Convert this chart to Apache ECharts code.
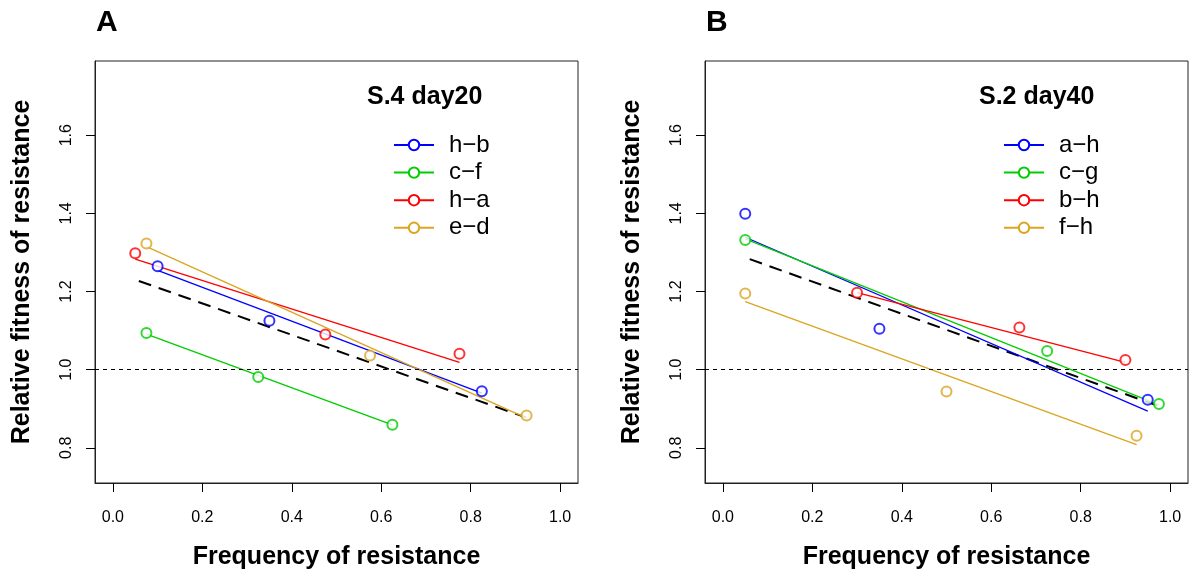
<!DOCTYPE html>
<html>
<head>
<meta charset="utf-8">
<script src="https://cdn.jsdelivr.net/npm/echarts@6/dist/echarts.min.js"></script>
<style>
html, body { margin: 0; padding: 0; background: #fff; }
#chart { width: 1191px; height: 571px; }
</style>
</head>
<body>
<div id="chart"></div>
<script>
var font = 'Liberation Sans, Arial, sans-serif';
var colors = ['#0000ff', '#00cd00', '#ff0000', '#daa520'];
var xTicks = [0, 0.2, 0.4, 0.6, 0.8, 1.0];
var yTicks = [0.8, 1.0, 1.2, 1.4, 1.6];

// panel A : S.4 day20
var namesA = ['h\u2212b', 'c\u2212f', 'h\u2212a', 'e\u2212d'];
var freqA = [[0.10, 0.35, 0.825], [0.075, 0.325, 0.625], [0.05, 0.475, 0.775], [0.075, 0.575, 0.925]];
var fitnessA = [[1.265, 1.125, 0.945], [1.094, 0.981, 0.859], [1.298, 1.090, 1.041], [1.323, 1.036, 0.883]];
var lineXA = [[0.10, 0.825], [0.075, 0.625], [0.05, 0.775], [0.075, 0.925]];
var lineYA = [[1.254, 0.940], [1.091, 0.859], [1.283, 1.019], [1.315, 0.876]];
var allXA = [0.058, 0.923];
var allYA = [1.227, 0.878];

// panel B : S.2 day40
var namesB = ['a\u2212h', 'c\u2212g', 'b\u2212h', 'f\u2212h'];
var freqB = [[0.05, 0.35, 0.95], [0.05, 0.725, 0.975], [0.30, 0.663, 0.90], [0.05, 0.50, 0.925]];
var fitnessB = [[1.399, 1.105, 0.923], [1.332, 1.048, 0.912], [1.197, 1.108, 1.025], [1.195, 0.944, 0.831]];
var lineXB = [[0.05, 0.95], [0.05, 0.975], [0.30, 0.90], [0.05, 0.925]];
var lineYB = [[1.339, 0.894], [1.335, 0.910], [1.197, 1.019], [1.174, 0.808]];
var allXB = [0.06, 0.974];
var allYB = [1.283, 0.907];

var myChart = echarts.init(document.getElementById('chart'));

function pairs(xs, ys) {
    var out = [];
    for (var i = 0; i < xs.length; i++) out.push([xs[i], ys[i]]);
    return out;
}

function panelSeries(k, names, freq, fitness, lineX, lineY, allX, allY) {
    var list = [];
    for (var i = 0; i < names.length; i++) {
        list.push({
            name: names[i], type: 'line', xAxisIndex: k, yAxisIndex: k,
            data: pairs(lineX[i], lineY[i]),
            symbol: 'emptyCircle', symbolSize: 10, showSymbol: false,
            color: colors[i], lineStyle: { color: colors[i], width: 1.3 },
            silent: true, z: 3
        });
        list.push({
            name: names[i], type: 'scatter', xAxisIndex: k, yAxisIndex: k,
            data: pairs(freq[i], fitness[i]),
            symbol: 'emptyCircle', symbolSize: 10,
            itemStyle: { color: colors[i], borderColor: colors[i], borderWidth: 1.2 },
            z: 4
        });
    }
    // pooled fit + reference line at 1
    list.push({
        type: 'line', xAxisIndex: k, yAxisIndex: k,
        data: pairs(allX, allY), symbol: 'none', silent: true,
        lineStyle: { color: '#000', width: 2, type: [13, 8] },
        markLine: {
            silent: true, symbol: 'none', label: { show: false },
            lineStyle: { color: '#000', width: 1, type: [4, 4] },
            data: [{ yAxis: 1 }]
        },
        z: 2
    });
    return list;
}

function xAxisFor(k) {
    return {
        type: 'value', gridIndex: k, min: -0.04, max: 1.04,
        name: 'Frequency of resistance', nameLocation: 'middle', nameGap: 62,
        nameTextStyle: { fontFamily: font, fontSize: 25, fontWeight: 'bold', color: '#000' },
        axisLine: { show: true, onZero: false, lineStyle: { color: '#222', width: 1 } },
        axisTick: { show: true, inside: false, length: 9, customValues: xTicks, lineStyle: { color: '#000' } },
        axisLabel: {
            customValues: xTicks, margin: 27, fontFamily: font, fontSize: 16, color: '#000',
            formatter: function (v) { return v.toFixed(1); }
        },
        splitLine: { show: false }
    };
}

function yAxisFor(k) {
    return {
        type: 'value', gridIndex: k, min: 0.71, max: 1.79,
        name: 'Relative fitness of resistance', nameLocation: 'middle', nameGap: 60,
        nameTextStyle: { fontFamily: font, fontSize: 25, fontWeight: 'bold', color: '#000' },
        axisLine: { show: true, onZero: false, lineStyle: { color: '#222', width: 1 } },
        axisTick: { show: true, inside: false, length: 9, customValues: yTicks, lineStyle: { color: '#000' } },
        axisLabel: {
            customValues: yTicks, margin: 20, rotate: 90, fontFamily: font, fontSize: 16, color: '#000',
            formatter: function (v) { return v.toFixed(1); }
        },
        splitLine: { show: false }
    };
}

function legendFor(left, names) {
    return {
        orient: 'vertical', left: left, top: 128, data: names,
        itemWidth: 40, itemHeight: 13, itemGap: 3.6,
        textStyle: { fontFamily: font, fontSize: 24, color: '#000', lineHeight: 23, padding: [0, 0, 0, 10] }
    };
}

var titleStyle = { fontFamily: font, fontWeight: 'bold', color: '#000' };

var option = {
    backgroundColor: '#fff',
    animation: false,
    title: [
        { text: 'A', left: 96, top: 8, padding: 0, textStyle: Object.assign({ fontSize: 30 }, titleStyle) },
        { text: 'B', left: 706, top: 8, padding: 0, textStyle: Object.assign({ fontSize: 30 }, titleStyle) },
        { text: 'S.4 day20', left: 367, top: 85, padding: 0, textStyle: Object.assign({ fontSize: 25 }, titleStyle) },
        { text: 'S.2 day40', left: 979, top: 85, padding: 0, textStyle: Object.assign({ fontSize: 25 }, titleStyle) }
    ],
    legend: [legendFor(388, namesA), legendFor(998, namesB)],
    grid: [
        { left: 95, top: 61, width: 483, height: 422, outerBoundsMode: 'none', show: true, borderColor: '#222', borderWidth: 1, backgroundColor: 'transparent' },
        { left: 705, top: 61, width: 483, height: 422, outerBoundsMode: 'none', show: true, borderColor: '#222', borderWidth: 1, backgroundColor: 'transparent' }
    ],
    xAxis: [xAxisFor(0), xAxisFor(1)],
    yAxis: [yAxisFor(0), yAxisFor(1)],
    series: panelSeries(0, namesA, freqA, fitnessA, lineXA, lineYA, allXA, allYA)
        .concat(panelSeries(1, namesB, freqB, fitnessB, lineXB, lineYB, allXB, allYB))
};

myChart.setOption(option);
</script>
</body>
</html>
